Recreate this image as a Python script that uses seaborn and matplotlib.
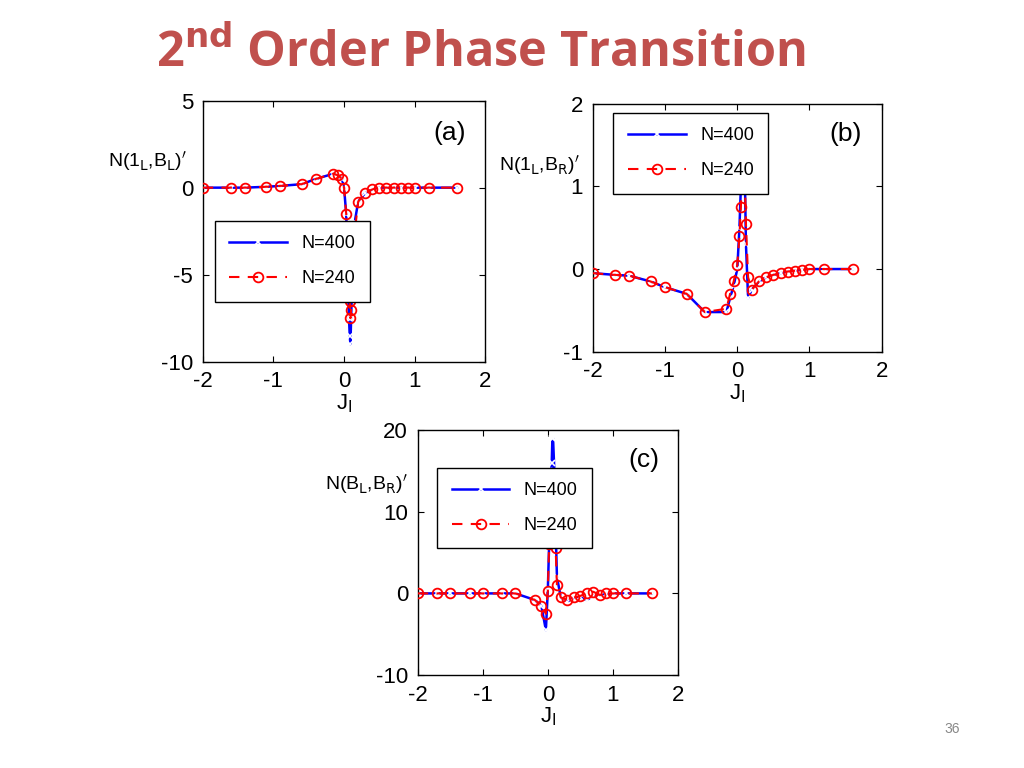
import matplotlib
matplotlib.use("Agg")
import matplotlib.pyplot as plt
import seaborn as sns
import numpy as np

# panel (a)
a_x400 = [-2,-1.6,-1.4,-1.1,-0.9,-0.6,-0.4,-0.15,-0.08,-0.03,0.0,0.03,0.05,0.06,0.07,0.08,0.09,0.1,0.12,0.15,0.2,0.3,0.4,0.5,0.6,0.7,0.8,0.9,1.0,1.2,1.6]
a_y400 = [0,0,0,0.05,0.1,0.2,0.5,0.8,0.7,0.5,0,-1.5,-4,-6,-7.5,-8.5,-9,-7.5,-4.5,-2,-0.8,-0.3,-0.1,0,0,0,0,0,0,0,0]
a_x240 = [-2,-1.6,-1.4,-1.1,-0.9,-0.6,-0.4,-0.15,-0.08,-0.03,0.0,0.03,0.05,0.06,0.07,0.08,0.09,0.1,0.12,0.15,0.2,0.3,0.4,0.5,0.6,0.7,0.8,0.9,1.0,1.2,1.6]
a_y240 = [0,0,0,0.05,0.1,0.2,0.5,0.8,0.7,0.5,0,-1.5,-3,-4.5,-5.5,-6.5,-7.5,-7,-4,-2.6,-0.8,-0.3,-0.1,0,0,0,0,0,0,0,0]
# panel (b)
b_x400 = [-2,-1.7,-1.5,-1.2,-1.0,-0.7,-0.45,-0.15,-0.1,-0.05,0.0,0.03,0.05,0.06,0.07,0.08,0.1,0.12,0.15,0.2,0.3,0.4,0.5,0.6,0.7,0.8,0.9,1.0,1.2,1.6]
b_y400 = [-0.05,-0.07,-0.08,-0.15,-0.22,-0.3,-0.52,-0.52,-0.35,-0.2,0,0.5,1.0,1.4,1.7,1.8,1.4,0.3,-0.35,-0.25,-0.15,-0.1,-0.07,-0.05,-0.03,-0.02,-0.01,0,0,0]
b_x240 = [-2,-1.7,-1.5,-1.2,-1.0,-0.7,-0.45,-0.15,-0.1,-0.05,0.0,0.03,0.05,0.06,0.07,0.08,0.1,0.12,0.15,0.2,0.3,0.4,0.5,0.6,0.7,0.8,0.9,1.0,1.2,1.6]
b_y240 = [-0.05,-0.07,-0.08,-0.15,-0.22,-0.3,-0.52,-0.48,-0.3,-0.15,0.05,0.4,0.75,1.1,1.3,1.35,1.2,0.55,-0.1,-0.25,-0.15,-0.1,-0.07,-0.05,-0.03,-0.02,-0.01,0,0,0]
# panel (c)
c_x400 = [-2,-1.7,-1.5,-1.2,-1.0,-0.7,-0.5,-0.2,-0.1,-0.03,0.0,0.02,0.04,0.06,0.07,0.08,0.1,0.12,0.14,0.2,0.3,0.4,0.5,0.6,0.7,0.8,0.9,1.0,1.2,1.6]
c_y400 = [0,0,0,0,0,0,0,-0.8,-1.5,-4.5,0.5,6,12,16,19,19,15,8,2,-0.5,-1,-0.5,-0.5,-0.8,-0.3,-0.2,-0.1,0,0,0]
c_x240 = [-2,-1.7,-1.5,-1.2,-1.0,-0.7,-0.5,-0.2,-0.1,-0.03,0.0,0.02,0.04,0.06,0.07,0.08,0.1,0.12,0.14,0.2,0.3,0.4,0.5,0.6,0.7,0.8,0.9,1.0,1.2,1.6]
c_y240 = [0,0,0,0,0,0,0,-0.8,-1.5,-2.5,0.3,6,9,12.5,14.5,14,10,5.5,1,-0.5,-0.8,-0.5,-0.3,0,0.2,-0.2,0,0,0,0]

plt.rcParams["font.family"] = "Liberation Sans"
plt.rcParams["axes.unicode_minus"] = False
fig = plt.figure(figsize=(10.24, 7.68), dpi=100)

panels = [
    ((0.198, 0.529, 0.276, 0.340), a_x400, a_y400, a_x240, a_y240, (-10, 5), [-10, -5, 0, 5], "(a)",
     r"N(1$_{\rm L}$,B$_{\rm L}$)$'$", (0.105, 0.79), (0.01, 0.195)),
    ((0.579, 0.542, 0.282, 0.323), b_x400, b_y400, b_x240, b_y240, (-1, 2), [-1, 0, 1, 2], "(b)",
     r"N(1$_{\rm L}$,B$_{\rm R}$)$'$", (0.487, 0.785), (0.04, 0.6)),
    ((0.408, 0.121, 0.254, 0.319), c_x400, c_y400, c_x240, c_y240, (-10, 20), [-10, 0, 10, 20], "(c)",
     r"N(B$_{\rm L}$,B$_{\rm R}$)$'$", (0.317, 0.37), (0.04, 0.48)),
]
for rect, x4, y4, x2, y2, ylim, yt, lab, ylab, ypos, legpos in panels:
    ax = fig.add_axes(rect)
    sns.lineplot(x=x4, y=y4, ax=ax, color="blue", estimator=None, sort=False, legend=False)
    sns.lineplot(x=x2, y=y2, ax=ax, color="red", estimator=None, sort=False, legend=False)
    l4, l2 = ax.lines[0], ax.lines[1]
    l4.set(linestyle="-", marker="x", markersize=5, markeredgewidth=1.2, linewidth=1.8,
           color="blue", label="N=400", zorder=2)
    l2.set(linestyle=(0, (5, 4)), marker="o", markersize=7, markerfacecolor="none",
           markeredgecolor="red", markeredgewidth=1.3, linewidth=1.5, color="red",
           label="N=240", zorder=3)
    ax.set_xlim(-2, 2)
    ax.set_ylim(*ylim)
    ax.set_xticks([-2, -1, 0, 1, 2])
    ax.set_yticks(yt)
    ax.tick_params(direction="in", top=True, right=True, labelsize=16, length=4, pad=7)
    for s in ax.spines.values():
        s.set_linewidth(1)
        s.set_color("black")
    ax.text(0.93, 0.85, lab, transform=ax.transAxes, ha="right", fontsize=19)
    leg = ax.legend(handles=[l4, l2], loc="lower left", bbox_to_anchor=legpos, fontsize=13,
                    fancybox=False, edgecolor="black", framealpha=1, handlelength=3.2,
                    borderpad=0.8, labelspacing=1.0)
    leg.get_frame().set_linewidth(1)
    ax.set_xlabel(r"J$_{\rm I}$", fontsize=16, labelpad=0)
    ax.set_ylabel("")
    fig.text(ypos[0], ypos[1], ylab, fontsize=14, ha="left", va="center")

fig.text(0.152, 0.93, r"2$^{\mathbf{nd}}$ Order Phase Transition", fontsize=35, fontweight="bold",
         color="#C0504D", family="Open Sans", ha="left", va="center")
fig.text(0.93, 0.045, "36", fontsize=10, color="#888888", ha="center")
fig.savefig("out.png", dpi=100)
